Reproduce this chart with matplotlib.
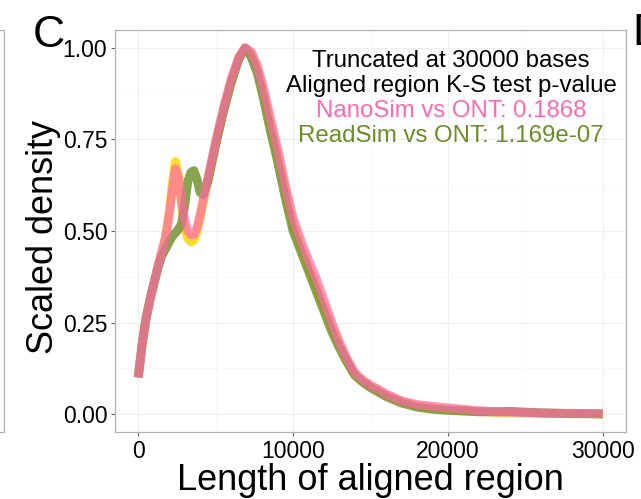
#!/usr/bin/env python3
"""Panel C — scaled density of aligned region length (ONT vs NanoSim vs ReadSim)."""

import matplotlib
matplotlib.use("Agg")
import matplotlib.pyplot as plt
from matplotlib.patches import Rectangle

plt.rcParams["font.family"] = ["Liberation Sans", "DejaVu Sans"]

# ── data ──────────────────────────────────────────────────────────────────
length = [0, 250, 500, 750, 1000, 1250, 1500, 1750, 2000, 2200, 2400, 2600,
          2800, 3000, 3200, 3400, 3600, 3800, 4000, 4200, 4500, 5000, 5500,
          6000, 6500, 6900, 7300, 7700, 8100, 8500, 9000, 9500, 10000, 10500,
          11000, 11500, 12000, 12500, 13000, 13500, 14000, 14500, 15000,
          15500, 16000, 17000, 18000, 19000, 20000, 21000, 22000, 23000,
          24000, 25000, 26000, 27000, 28000, 29000, 30000]

ont = [0.10, 0.19, 0.26, 0.31, 0.355, 0.40, 0.44, 0.48, 0.55, 0.63, 0.69,
       0.65, 0.57, 0.51, 0.48, 0.47, 0.475, 0.50, 0.54, 0.58, 0.64, 0.74,
       0.83, 0.91, 0.975, 1.00, 0.985, 0.945, 0.88, 0.80, 0.71, 0.61, 0.52,
       0.46, 0.405, 0.35, 0.295, 0.24, 0.19, 0.145, 0.108, 0.09, 0.077,
       0.064, 0.052, 0.034, 0.023, 0.017, 0.013, 0.010, 0.007, 0.005, 0.004,
       0.003, 0.002, 0.002, 0.001, 0.001, 0.0]

readsim = [0.10, 0.19, 0.26, 0.31, 0.355, 0.395, 0.43, 0.45, 0.47, 0.485,
           0.495, 0.505, 0.52, 0.57, 0.635, 0.66, 0.665, 0.64, 0.605, 0.60,
           0.635, 0.735, 0.825, 0.905, 0.97, 1.00, 0.975, 0.93, 0.86, 0.78,
           0.69, 0.59, 0.50, 0.445, 0.39, 0.335, 0.28, 0.225, 0.18, 0.14,
           0.105, 0.087, 0.072, 0.06, 0.048, 0.03, 0.019, 0.013, 0.010, 0.008,
           0.006, 0.006, 0.007, 0.005, 0.003, 0.002, 0.001, 0.001, 0.0]

nanosim = [0.10, 0.19, 0.26, 0.31, 0.355, 0.40, 0.44, 0.48, 0.545, 0.61,
           0.67, 0.645, 0.58, 0.53, 0.50, 0.49, 0.49, 0.51, 0.545, 0.585,
           0.645, 0.745, 0.835, 0.915, 0.975, 1.00, 0.99, 0.95, 0.89, 0.815,
           0.725, 0.625, 0.535, 0.475, 0.42, 0.37, 0.31, 0.25, 0.195, 0.15,
           0.112, 0.093, 0.078, 0.068, 0.055, 0.036, 0.026, 0.021, 0.017,
           0.013, 0.009, 0.006, 0.005, 0.004, 0.003, 0.002, 0.002, 0.001, 0.001]

x_ticks = [0, 10000, 20000, 30000]
y_ticks = [0.00, 0.25, 0.50, 0.75, 1.00]

notes = [
    ("Truncated at 30000 bases", "black"),
    ("Aligned region K-S test p-value", "black"),
    ("NanoSim vs ONT: 0.1868", "#FF69B4"),
    ("ReadSim vs ONT: 1.169e-07", "#6B8E23"),
]

W, H = 641, 499
fig = plt.figure(figsize=(W / 100, H / 100), dpi=100)
ax = fig.add_axes([115 / W, 1 - 432.3 / H, (626 - 115) / W, (432.3 - 29.7) / H])

# ── curves ────────────────────────────────────────────────────────────────
lw = 6.4
ax.plot(length, ont, color="#FFD700", alpha=0.85, lw=lw,
        solid_capstyle="butt", solid_joinstyle="round", zorder=3)
ax.plot(length, readsim, color="#6B8E23", alpha=0.8, lw=lw,
        solid_capstyle="butt", solid_joinstyle="round", zorder=4)
ax.plot(length, nanosim, color="#FF69B4", alpha=0.7, lw=lw,
        solid_capstyle="butt", solid_joinstyle="round", zorder=5)

# ── annotation ────────────────────────────────────────────────────────────
for (txt, col), yb in zip(notes, [0.949, 0.881, 0.811, 0.743]):
    ax.text(20200, yb, txt, color=col, fontsize=17.3, ha="center",
            va="baseline", zorder=6)

# ── axes styling (ggplot theme_bw look) ───────────────────────────────────
ax.set_xlim(-1500, 31500)
ax.set_ylim(-0.05, 1.05)
ax.set_xticks(x_ticks)
ax.set_xticklabels([str(v) for v in x_ticks])
ax.set_yticks(y_ticks)
ax.set_yticklabels([f"{v:.2f}" for v in y_ticks])
ax.set_xticks([5000, 15000, 25000], minor=True)
ax.set_yticks([0.125, 0.375, 0.625, 0.875], minor=True)
ax.grid(True, which="major", color="#EFEFEF", lw=0.8, zorder=0)
ax.grid(True, which="minor", color="#F7F7F7", lw=0.6, zorder=0)
ax.set_axisbelow(True)
ax.tick_params(which="major", length=3, width=0.8, color="#666666",
               labelsize=16.5, pad=2.5, labelcolor="black")
ax.tick_params(which="minor", length=0)
for s in ax.spines.values():
    s.set_color("#B3B3B3")
    s.set_linewidth(0.9)

fig.text(370.5 / W, 1 - 490 / H, "Length of aligned region", fontsize=26,
         ha="center", va="baseline")
fig.text(53 / W, 1 - 237 / H, "Scaled density", fontsize=26, rotation=90,
         rotation_mode="anchor", ha="center", va="baseline")

# panel letters
fig.text(33 / W, 1 - 47 / H, "C", fontsize=32, va="baseline")
fig.text(632 / W, 1 - 45 / H, "D", fontsize=32, va="baseline")

# edge of the neighbouring panel on the left
fig.add_artist(Rectangle((-0.2, 1 - 432.3 / H), 0.2 + 4 / W, (432.3 - 29.7) / H,
                         transform=fig.transFigure, fill=False,
                         edgecolor="#B3B3B3", lw=0.9))

fig.savefig("out.png", dpi=100)
